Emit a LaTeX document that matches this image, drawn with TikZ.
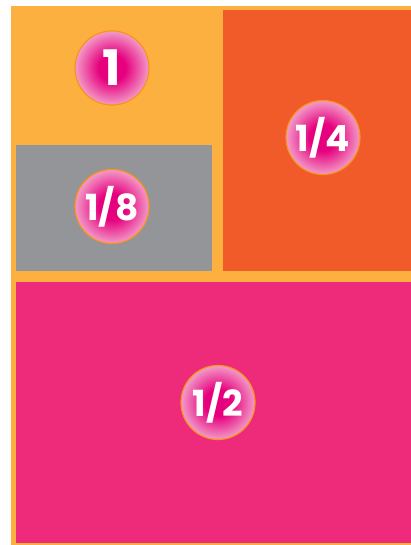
\documentclass[tikz,border=0pt]{standalone}
\usepackage{fontspec}
\setmainfont{Poppins}

\definecolor{bgorange}{HTML}{FBB040}
\definecolor{quarterred}{HTML}{F15A29}
\definecolor{eighthgray}{HTML}{939598}
\definecolor{halfpink}{HTML}{EE2A7B}
\definecolor{ballcore}{HTML}{E6007E}
\definecolor{balledge}{HTML}{F39BC8}
\definecolor{ballrim}{HTML}{F7941D}

\pgfdeclareradialshading{ballshade}{\pgfpointorigin}{color(0bp)=(ballcore); color(9bp)=(ballcore); color(25bp)=(balledge); color(50bp)=(balledge)}

\tikzset{
  fracball/.style={circle, draw=ballrim, line width=1.2pt, shading=ballshade,
    minimum size=74pt, inner sep=0pt, text=white,
    font=\bfseries\fontsize{36}{36}\selectfont}
}

\begin{document}
\begin{tikzpicture}[x=1pt,y=-1pt]
\useasboundingbox (0,0) rectangle (411,545);
\fill[white] (0,0) rectangle (411,545);
\fill[bgorange] (11,6) rectangle (411,545);
\fill[quarterred] (223,10) rectangle (411,270.5);
\fill[eighthgray] (16,145) rectangle (212,270.5);
\fill[halfpink] (16,282) rectangle (411,543);

\node[fracball, font=\bfseries\fontsize{49}{49}\selectfont] (whole) at (112,68) {1};
\node[fracball] (quarter) at (323,137.5) {1/4};
\node[fracball] (eighth) at (112,206.5) {1/8};
\node[fracball] (half) at (218,402.5) {1/2};
\end{tikzpicture}
\end{document}
